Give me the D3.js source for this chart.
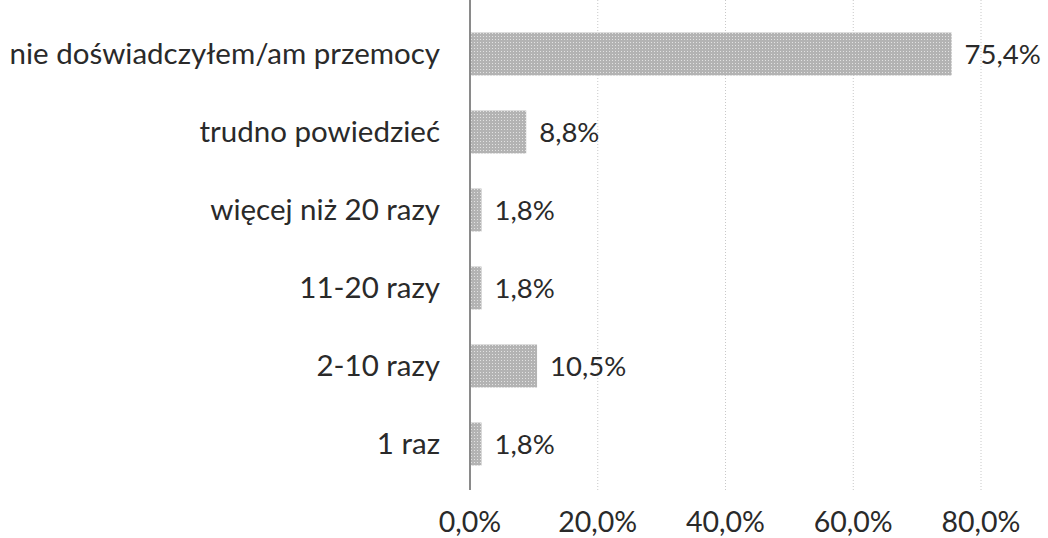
<!DOCTYPE html>
<html lang="pl">
  <head>
    <meta charset="utf-8">
    <title>Przemoc - wykres</title>
    <style>
      body { margin: 0; background: #fff; }
      svg text { font-family: Lato, "Open Sans", sans-serif; fill: #2a2a2a; }
    </style>
  </head>
  <body>
    <svg width="1048" height="538"></svg>

    <script src="https://cdnjs.cloudflare.com/ajax/libs/d3/7.8.5/d3.min.js"></script>
    <script>

    // dane (od góry)
    var categories = ["nie doświadczyłem/am przemocy", "trudno powiedzieć", "więcej niż 20 razy",
                      "11-20 razy", "2-10 razy", "1 raz"];
    var values = [75.4, 8.8, 1.8, 1.8, 10.5, 1.8];
    var ticks = [0, 20, 40, 60, 80];

    var svg = d3.select("svg");

    var x = d3.scaleLinear()
        .domain([0, 80])
        .range([470, 981]);

    var y = d3.scaleBand()
        .domain(categories)
        .range([15, 483])
        .paddingInner(0.45)
        .paddingOuter(0.225);

    var fmt = function(v) { return v.toFixed(1).replace(".", ",") + "%"; };

    // dotted texture like the scanned bars
    var defs = svg.append("defs");
    var pat = defs.append("pattern")
        .attr("id", "dots")
        .attr("width", 3).attr("height", 3)
        .attr("patternUnits", "userSpaceOnUse");
    pat.append("rect").attr("width", 3).attr("height", 3).attr("fill", "#b3b3b3");
    pat.append("rect").attr("width", 1).attr("height", 1).attr("fill", "#e2e2e2");

    // gridlines
    svg.append("g")
        .selectAll("line")
        .data(ticks.slice(1))
      .enter().append("line")
        .attr("x1", function(d) { return x(d); })
        .attr("x2", function(d) { return x(d); })
        .attr("y1", 0)
        .attr("y2", 490)
        .attr("stroke", "#c8c8c8")
        .attr("stroke-width", 1)
        .attr("stroke-dasharray", "1,2");

    // bars
    svg.append("g")
        .selectAll("rect")
        .data(values)
      .enter().append("rect")
        .attr("x", x(0))
        .attr("y", function(d, i) { return y(categories[i]); })
        .attr("width", function(d) { return x(d) - x(0); })
        .attr("height", y.bandwidth())
        .attr("fill", "url(#dots)");

    // vertical axis line
    svg.append("line")
        .attr("x1", x(0)).attr("x2", x(0))
        .attr("y1", 0).attr("y2", 490)
        .attr("stroke", "#8a8a8a")
        .attr("stroke-width", 2);

    // category labels
    svg.append("g")
        .selectAll("text")
        .data(categories)
      .enter().append("text")
        .attr("x", x(0) - 30)
        .attr("y", function(d) { return y(d) + y.bandwidth() / 2; })
        .attr("dy", "0.35em")
        .attr("text-anchor", "end")
        .style("font-size", "29.5px")
        .text(function(d) { return d; });

    // value labels
    svg.append("g")
        .selectAll("text")
        .data(values)
      .enter().append("text")
        .attr("x", function(d) { return x(d) + 13; })
        .attr("y", function(d, i) { return y(categories[i]) + y.bandwidth() / 2; })
        .attr("dy", "0.35em")
        .style("font-size", "27.5px")
        .text(fmt);

    // x tick labels
    svg.append("g")
        .selectAll("text")
        .data(ticks)
      .enter().append("text")
        .attr("x", function(d) { return x(d); })
        .attr("y", 532)
        .attr("text-anchor", "middle")
        .style("font-size", "28.5px")
        .text(function(d) { return fmt(d); });

    </script>
  </body>
</html>
